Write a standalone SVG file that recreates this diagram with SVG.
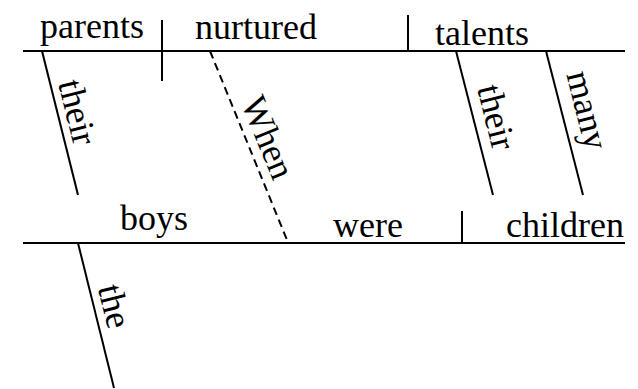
<svg xmlns="http://www.w3.org/2000/svg" width="638" height="389" viewBox="0 0 638 389">
<style>
text{font-family:"Liberation Serif","Times New Roman",serif;font-size:36px;fill:#000}
.ln{stroke:#000;stroke-width:2;fill:none}
.dash{stroke-dasharray:8,5}
</style>
<rect width="638" height="389" fill="#fff"/>
<g id="connectors">
<line class="ln" x1="23" y1="51" x2="625" y2="51"/>
<line class="ln" x1="162" y1="20" x2="162" y2="81"/>
<line class="ln" x1="408" y1="15" x2="408" y2="51"/>
<line class="ln" x1="42" y1="51" x2="78" y2="195"/>
<line class="ln dash" x1="210" y1="51" x2="287" y2="240"/>
<line class="ln" x1="456" y1="51" x2="493" y2="195"/>
<line class="ln" x1="546" y1="51" x2="583" y2="195"/>
<line class="ln" x1="23" y1="243" x2="625" y2="243"/>
<line class="ln" x1="462" y1="211" x2="462" y2="243"/>
<line class="ln" x1="78" y1="243" x2="114" y2="388"/>
</g>
<g id="parents"><text x="40" y="38">parents</text></g>
<g id="nurtured"><text x="195" y="39">nurtured</text></g>
<g id="talents"><text x="435" y="45">talents</text></g>
<g id="their1"><text transform="translate(66,115) rotate(76)" text-anchor="middle">their</text></g>
<g id="when"><text transform="translate(257,142) rotate(67.8)" text-anchor="middle">When</text></g>
<g id="their2"><text transform="translate(485,120) rotate(76)" text-anchor="middle">their</text></g>
<g id="many"><text transform="translate(576,113) rotate(76)" text-anchor="middle">many</text></g>
<g id="boys"><text x="120" y="230">boys</text></g>
<g id="were"><text x="333" y="237">were</text></g>
<g id="children"><text x="506" y="237">children</text></g>
<g id="the"><text transform="translate(103,309) rotate(76)" text-anchor="middle">the</text></g>
</svg>
